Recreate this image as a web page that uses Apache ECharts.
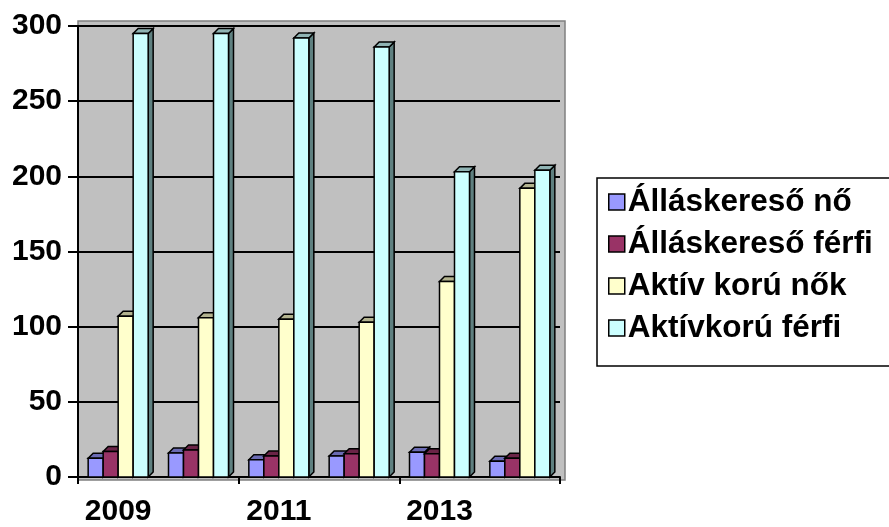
<!DOCTYPE html>
<html><head><meta charset="utf-8">
<script src="https://cdn.jsdelivr.net/npm/echarts@6/dist/echarts.min.js"></script>
<style>html,body{margin:0;padding:0;background:#fff}#c{width:889px;height:527px}</style>
</head><body><div id="c"></div>
<script>
const categories = ['2009','2010','2011','2012','2013','2014'];
const seriesNames = ['Álláskereső nő','Álláskereső férfi','Aktív korú nők','Aktívkorú férfi'];
const allaskeresoNo = [12.5, 16, 11.5, 14, 16.5, 10.5];
const allaskeresoFerfi = [17, 18, 14, 15.5, 15.5, 12.5];
const aktivKoruNok = [107, 106, 105, 103, 130, 192];
const aktivkoruFerfi = [295, 295, 292, 286, 203, 204];
const yTicks = [0, 50, 100, 150, 200, 250, 300];

const seriesData = [allaskeresoNo, allaskeresoFerfi, aktivKoruNok, aktivkoruFerfi];
const front = ['#9999ff','#993366','#ffffcc','#ccffff'];
const topC  = ['#6b6bb3','#6b2447','#b3b38f','#8fb3b3'];
const sideC = ['#4d4d80','#4d1a33','#80806a','#5f8080'];

const chart = echarts.init(document.getElementById('c'));
const BW = 15, D = 5;
function makeRender(idx){
  return function(params, api){
    const ci = api.value(0), v = api.value(1);
    const base = api.coord([ci, 0]);
    const top = api.coord([ci, v]);
    const x = base[0] + (idx - 2) * BW;
    const yt = top[1], yb = base[1];
    const st = {stroke:'#000', lineWidth:1.5};
    return {type:'group', children:[
      {type:'polygon', shape:{points:[[x+BW,yt],[x+BW+D,yt-D],[x+BW+D,yb-D],[x+BW,yb]]}, style:Object.assign({fill:sideC[idx]}, st)},
      {type:'polygon', shape:{points:[[x,yt],[x+D,yt-D],[x+BW+D,yt-D],[x+BW,yt]]}, style:Object.assign({fill:topC[idx]}, st)},
      {type:'rect', shape:{x:x, y:yt, width:BW, height:yb-yt}, style:Object.assign({fill:front[idx]}, st)}
    ]};
  };
}
const series = seriesData.map((arr, i) => ({
  name: seriesNames[i], type:'custom', renderItem: makeRender(i),
  itemStyle:{color: front[i], borderColor:'#000', borderWidth:1.5},
  encode:{x:0, y:1},
  data: arr.map((v, k) => [k, v]), z: 3
}));

chart.setOption({
  animation:false,
  textStyle:{fontFamily:'Liberation Sans, Arial, sans-serif'},
  grid:{left:78, right:329, top:26, bottom:47, show:false},
  graphic:[
    {type:'rect', z:-10, shape:{x:78, y:21, width:487, height:459}, style:{fill:'#c0c0c0', stroke:'#808080', lineWidth:1.5}},
    {type:'rect', z:-10, shape:{x:597, y:178, width:400, height:188}, style:{fill:'#fff', stroke:'#000', lineWidth:1.5}}
  ],
  legend:{
    orient:'vertical', left:603, top:181, itemWidth:16, itemHeight:16, itemGap:10,
    icon:'rect', data: seriesNames,
    itemStyle:{borderColor:'#000', borderWidth:1.5},
    textStyle:{fontSize:31.5, fontWeight:'bold', color:'#000', lineHeight:31, fontFamily:'Liberation Sans, Arial, sans-serif', padding:[0,0,0,-2]}
  },
  xAxis:{
    type:'category', data:categories, boundaryGap:true,
    axisLine:{lineStyle:{color:'#000', width:2}},
    axisTick:{show:true, length:7, lineStyle:{color:'#000', width:2}},
    axisLabel:{interval:1, fontSize:30, fontWeight:'bold', color:'#000', margin:20},
    splitLine:{show:false}
  },
  yAxis:{
    type:'value', min:0, max:300, interval:50,
    axisLine:{show:true, lineStyle:{color:'#000', width:2}},
    axisTick:{show:true, length:10, lineStyle:{color:'#000', width:2}},
    axisLabel:{fontSize:30, fontWeight:'bold', color:'#000', margin:16,
      formatter: v => yTicks.indexOf(v) >= 0 ? String(v) : ''},
    splitLine:{show:true, lineStyle:{color:'#000', width:2}}
  },
  series: series
});
</script></body></html>
